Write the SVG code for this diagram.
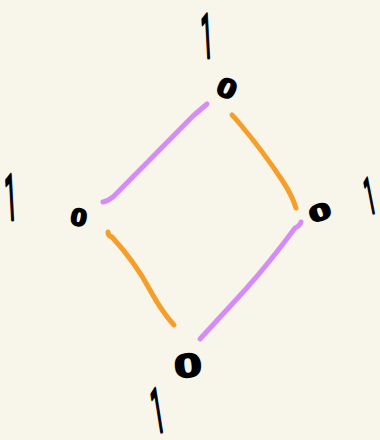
<svg xmlns="http://www.w3.org/2000/svg" width="380" height="440" viewBox="0 0 380 440">
  <style>
    .zero { font-family: "Liberation Sans", Arial, sans-serif; font-weight: bold; fill: #000; stroke: #000; stroke-width: 1.8; stroke-linejoin: round; text-anchor: middle; }
    .one { font-family: Roboto, "Liberation Sans", sans-serif; fill: #000; stroke: #000; stroke-width: 3; stroke-linejoin: round; text-anchor: middle; }
    .edge { fill: none; stroke-width: 5; stroke-linecap: round; stroke-linejoin: round; }
    .purple { stroke: #d68cf8; }
    .orange { stroke: #f59e2a; }
  </style>
  <rect width="380" height="440" fill="#f8f6eb"/>
  <g id="connectors">
    <path class="edge purple" d="M207,104 Q200,110 193,116 L113,197 Q108,201 103,202"/>
    <path class="edge orange" d="M232,115 Q236,119 240,124 Q262,150 282,180 Q292,195 296,208"/>
    <path class="edge orange" d="M108,232 Q108,236 112,237 Q135,262 150,290 Q162,312 174,325"/>
    <path class="edge purple" d="M301,222 Q300,226 295,228 Q270,262 245,290 Q222,315 200,339"/>
  </g>
  <g id="node-top">
    <text class="zero" font-size="27" transform="translate(227 88) rotate(25) scale(1.25 1)" x="0" y="9.7">0</text>
    <text class="one" font-size="62" transform="translate(208 58) rotate(-3) scale(0.33 1)" x="0" y="0">1</text>
  </g>
  <g id="node-left">
    <text class="zero" font-size="24" transform="translate(79 217) rotate(10) scale(1.2 1)" x="0" y="8.6">0</text>
    <text class="one" font-size="64" transform="translate(12 220) rotate(-3) scale(0.33 1)" x="0" y="0">1</text>
  </g>
  <g id="node-right">
    <text class="zero" font-size="23" transform="translate(320 212) rotate(-20) scale(1.7 1)" x="0" y="8.3">0</text>
    <text class="one" font-size="50" transform="translate(373 213) rotate(-11) scale(0.33 1)" x="0" y="0">1</text>
  </g>
  <g id="node-bottom">
    <text class="zero" font-size="33" transform="translate(188 365) rotate(-5) scale(1.5 1)" x="0" y="11.9">0</text>
    <text class="one" font-size="62" transform="translate(161 432) rotate(-9) scale(0.33 1)" x="0" y="0">1</text>
  </g>
</svg>
